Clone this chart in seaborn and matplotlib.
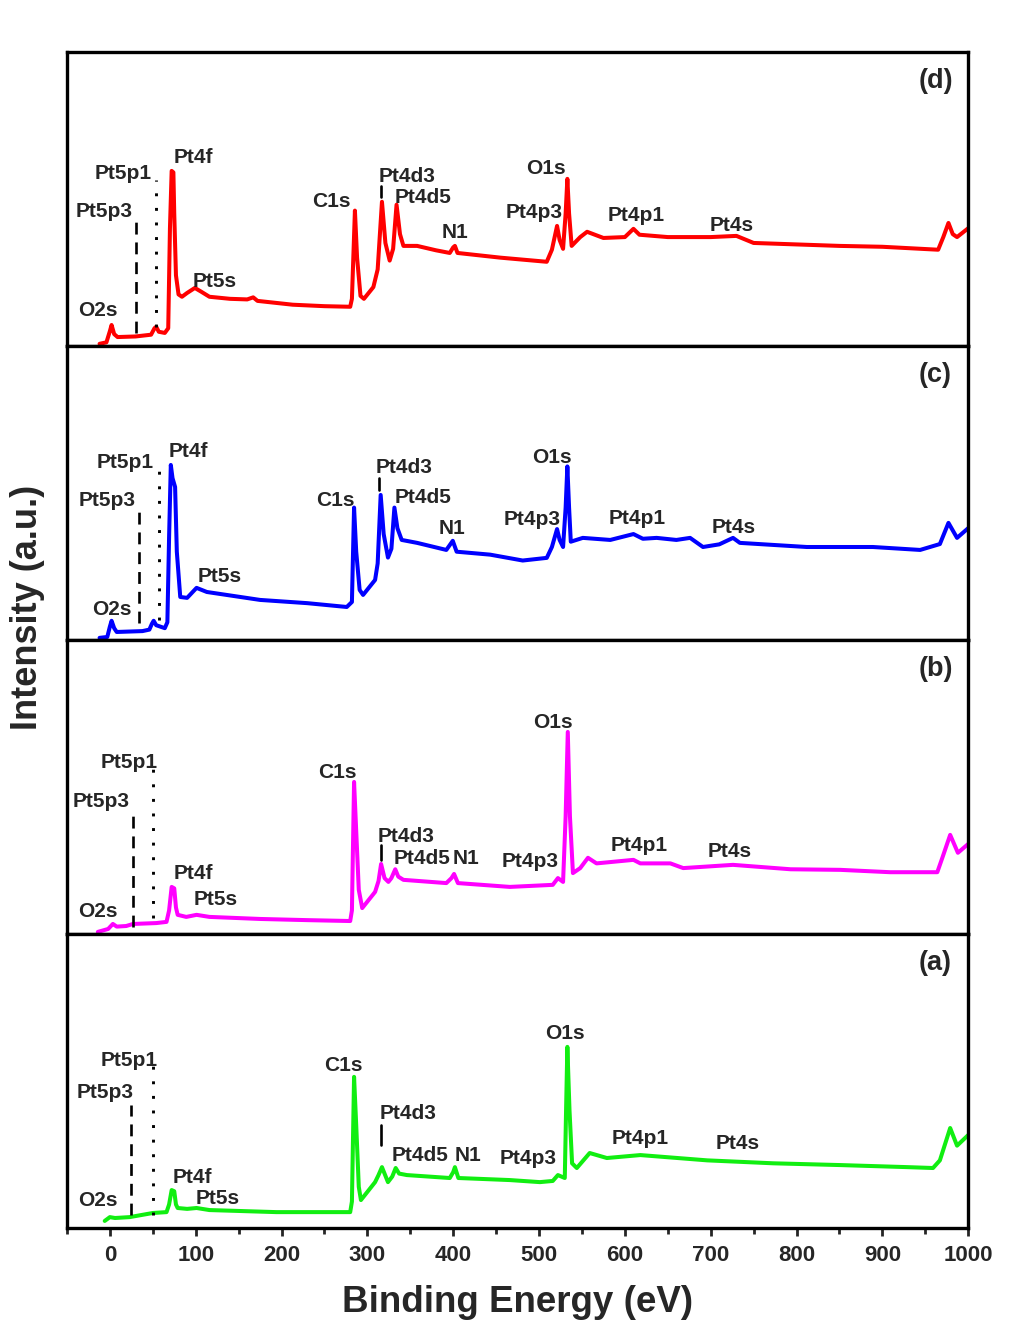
import matplotlib
matplotlib.use("Agg")
import matplotlib.pyplot as plt
from matplotlib.ticker import MultipleLocator
import seaborn as sns
import pandas as pd

# ---------------- data ----------------
# Binding energies (eV) and relative intensities (0-100 within each panel)
energy_d = [-12, -4, 0, 2, 5, 9, 30, 48, 52, 54, 57, 64, 68, 70, 72, 74, 75, 77, 80, 84, 90, 99, 106, 116,
            140, 160, 167, 172, 213, 250, 280, 282, 285.5, 288, 292, 296, 307, 312, 317, 321, 326, 330, 334,
            338, 342, 358, 380, 396, 400, 402, 405, 455, 509, 515, 521, 524, 528, 531, 533, 535, 538, 548,
            556, 575, 600, 610, 617, 650, 700, 730, 750, 800, 850, 900, 965, 971, 977, 982, 987, 1000]
inten_d = [0.7, 1.2, 5, 7.1, 4, 3, 3.2, 3.8, 6, 6.5, 4.8, 4.4, 6, 40, 59.5, 59, 45, 24, 17.5, 16.7, 18, 19.7,
           18.5, 16.7, 16, 15.8, 16.5, 15.3, 14, 13.5, 13.3, 16, 46, 30, 17, 16, 20, 26, 49, 35, 29, 33, 48,
           38, 34, 34, 32.5, 31.6, 33.5, 34, 31.6, 30, 28.6, 32.7, 40.8, 36, 33, 45, 56.8, 45, 34, 37,
           38.8, 36.7, 37, 39.8, 37.8, 37, 37, 37.4, 35, 34.5, 34, 33.7, 32.7, 37, 41.8, 38, 37, 40]

energy_c = [-12, -3, 0, 2, 5, 8, 38, 46, 49, 51, 54, 64, 67, 69, 71, 73, 76, 78, 82, 90, 101, 113, 175, 230,
            276, 282, 284.5, 287, 291, 295, 309, 312, 315.5, 319, 324, 328, 331.5, 335, 340, 358, 392,
            399.5, 404, 443, 481, 509, 515, 521, 524, 528, 531, 533, 535, 537, 551, 583, 610, 621, 637,
            660, 676, 691, 710, 726, 734, 812, 889, 944, 967, 977, 987, 1000]
inten_c = [0.7, 1, 4.5, 6.5, 4, 2.7, 3, 3.5, 5.5, 6.5, 5, 4, 6, 35, 59.5, 55, 52, 30, 14.6, 14.3, 17.7, 16.3,
           13.6, 12.5, 11.2, 12.9, 45, 30, 17, 15.3, 20.4, 26, 49.3, 36, 28, 31, 45, 38, 34, 33, 30.6,
           33.7, 30, 29, 27, 27.9, 31.6, 37.7, 34, 31.6, 45, 59, 45, 33.4, 34.7, 34, 36, 34.4, 34.7,
           34, 34.7, 31.6, 32.5, 34.7, 33, 31.6, 31.6, 30.6, 32.6, 39.8, 34.7, 38]

energy_b = [-14, -2, 3.5, 8, 19, 27, 54, 66, 69, 72, 75, 77, 79, 89, 101, 116, 175, 230, 280, 282, 284.5,
            287, 290, 294, 309, 313, 316, 320, 324.5, 328, 332.5, 336, 342, 392, 398, 401, 405.5, 466,
            516, 522, 528, 531, 533.5, 536, 539.5, 548, 557, 567, 610, 618, 653, 668, 726, 793, 851, 909,
            964, 970, 979, 988, 1000]
inten_b = [0.7, 1.7, 3.4, 2.5, 2.7, 3.4, 3.7, 4.1, 8, 16, 15.5, 9, 6.5, 5.8, 6.5, 5.8, 5.1, 4.7, 4.4, 8,
           51.7, 35, 15, 8.8, 14.3, 18, 23.8, 19, 17.7, 19, 22, 19.5, 18.4, 17.3, 19, 20.4, 17.3, 16,
           16.7, 19, 17.7, 40, 68.7, 40, 20.7, 22.4, 25.9, 24, 25.2, 24, 24, 22.4, 23.5, 22, 21.8, 21,
           21, 26, 33.7, 27.6, 30.6]

energy_a = [-6, 0, 6, 23, 50, 66, 69, 72, 75, 77, 79, 90, 101, 116, 194, 280, 282, 284.5, 287, 290, 292.5,
            309, 313, 317, 324, 329, 333, 337, 346, 396, 400, 402, 406, 466, 501, 516, 522, 530, 531.5,
            533, 535.5, 538.5, 544, 559, 579, 618, 696, 773, 851, 929, 959, 967, 979, 987, 1000]
inten_a = [2.4, 3.7, 3.4, 3.7, 5.1, 5.4, 8, 12.9, 12.5, 8, 6.8, 6.5, 6.8, 6.1, 5.4, 5.4, 9, 51.4, 35, 14,
           9.5, 15.6, 18, 20.7, 15.6, 17.5, 20.4, 18.5, 18, 17, 19, 20.7, 17, 16.3, 15.6, 16, 18, 17, 40,
           61.6, 40, 22, 20.4, 25.5, 23.8, 24.8, 23, 22, 21.4, 20.7, 20.4, 23, 34, 28, 31.6]

panel_names = ["(d)", "(c)", "(b)", "(a)"]
panel_colors = ["#ff0000", "#0000ff", "#ff00ff", "#11ee11"]

peak_labels = ["Pt5p1", "Pt5p3", "Pt4f", "Pt5s", "O2s", "C1s", "Pt4d3", "Pt4d5", "N1",
               "Pt4p3", "O1s", "Pt4p1", "Pt4s"]
label_x = {
    "(d)": [15, -7, 97, 122, -14, 258, 346, 365, 402, 494, 508, 613, 724],
    "(c)": [17.5, -3.5, 91, 128, 2.3, 263, 343, 365, 399, 492, 515, 614, 727],
    "(b)": [23, -10.5, 97, 123.5, -14, 264.5, 345, 363.6, 415, 489.5, 516, 616.5, 722.6],
    "(a)": [22, -6, 95.6, 126, -14, 271.6, 347, 361, 417, 487, 530, 618, 731],
}
label_y = {
    "(d)": [58.5, 45.6, 64, 22, 11.9, 49, 57.5, 50.3, 38.4, 45.2, 60.2, 44.2, 40.8],
    "(c)": [60.2, 47.3, 64, 21.4, 10.5, 47.3, 58.5, 48.6, 37.8, 40.8, 61.9, 41.2, 38.4],
    "(b)": [58.2, 45.2, 20.7, 11.6, 7.5, 54.8, 33.3, 25.5, 25.5, 24.5, 72, 30, 28.2],
    "(a)": [57, 46, 17.3, 10.2, 9.5, 55.4, 39, 24.5, 24.5, 23.5, 66, 30.3, 28.6],
}
# Pt5p3 (dashed) and Pt5p1 (dotted) marker lines: x, y-bottom, y-top
pt5p3_line = {"(d)": (30, 4.4, 42.9), "(c)": (34, 5.8, 44), "(b)": (27, 2.4, 41.5), "(a)": (24.5, 4.4, 41.8)}
pt5p1_line = {"(d)": (54, 6.5, 56.5), "(c)": (57, 6.8, 58), "(b)": (50, 5.4, 56.5), "(a)": (50, 4.4, 55.4)}
pt4d3_tick = {"(d)": (316, 50.7, 54.4), "(c)": (313.5, 51, 55), "(b)": (316, 25.2, 30.3), "(a)": (316, 28.2, 35)}

x_ticks = [0, 100, 200, 300, 400, 500, 600, 700, 800, 900, 1000]

spectra = {
    "(d)": (energy_d, inten_d),
    "(c)": (energy_c, inten_c),
    "(b)": (energy_b, inten_b),
    "(a)": (energy_a, inten_a),
}

# ---------------- plotting ----------------
sns.set_style("white")
plt.rcParams["font.family"] = ["Liberation Sans", "DejaVu Sans"]
plt.rcParams["font.weight"] = "bold"

fig, axes = plt.subplots(4, 1, sharex=True, figsize=(10.30, 13.29), dpi=100)
fig.subplots_adjust(left=0.065, right=0.94, bottom=0.076, top=0.961, hspace=0)

for ax, name, color in zip(axes, panel_names, panel_colors):
    e, i = spectra[name]
    df = pd.DataFrame({"Binding Energy (eV)": e, "Intensity": i})
    sns.lineplot(data=df, x="Binding Energy (eV)", y="Intensity", ax=ax, color=color,
                 linewidth=2.9, sort=False, estimator=None)
    x0, yb, yt = pt5p3_line[name]
    ax.plot([x0, x0], [yb, yt], color="black", lw=1.9, linestyle=(0, (4.5, 3)))
    x0, yb, yt = pt5p1_line[name]
    ax.plot([x0, x0], [yb, yt], color="black", lw=2.1, linestyle=(0, (1, 4)))
    x0, yb, yt = pt4d3_tick[name]
    ax.plot([x0, x0], [yb, yt], color="black", lw=1.9)
    for lab, lx, ly in zip(peak_labels, label_x[name], label_y[name]):
        ax.text(lx, ly, lab, ha="center", va="center", fontsize=15, fontweight="bold")
    ax.text(962, 90, name, ha="center", va="center", fontsize=19.5, fontweight="bold")
    ax.set_ylim(0, 100)
    ax.set_xlim(-50, 1000)
    ax.set_yticks([])
    ax.set_ylabel("")
    ax.set_xlabel("")
    for sp in ax.spines.values():
        sp.set_linewidth(2.4)
        sp.set_color("black")
    ax.tick_params(axis="x", which="both", bottom=False, labelbottom=False)

axb = axes[-1]
axb.set_xticks(x_ticks)
axb.xaxis.set_minor_locator(MultipleLocator(50))
axb.tick_params(axis="x", which="major", bottom=True, labelbottom=True, direction="out",
                length=6, width=2, labelsize=16, pad=6)
axb.tick_params(axis="x", which="minor", bottom=True, direction="out", length=4, width=2)
for t in axb.get_xticklabels():
    t.set_fontweight("bold")
axb.set_xlabel("Binding Energy (eV)", fontsize=26.5, fontweight="bold", labelpad=14)

fig.text(0.027, 0.543, "Intensity (a.u.)", rotation=90, ha="center", va="center",
         fontsize=26, fontweight="bold")

fig.savefig("out.png", dpi=100, facecolor="white")
